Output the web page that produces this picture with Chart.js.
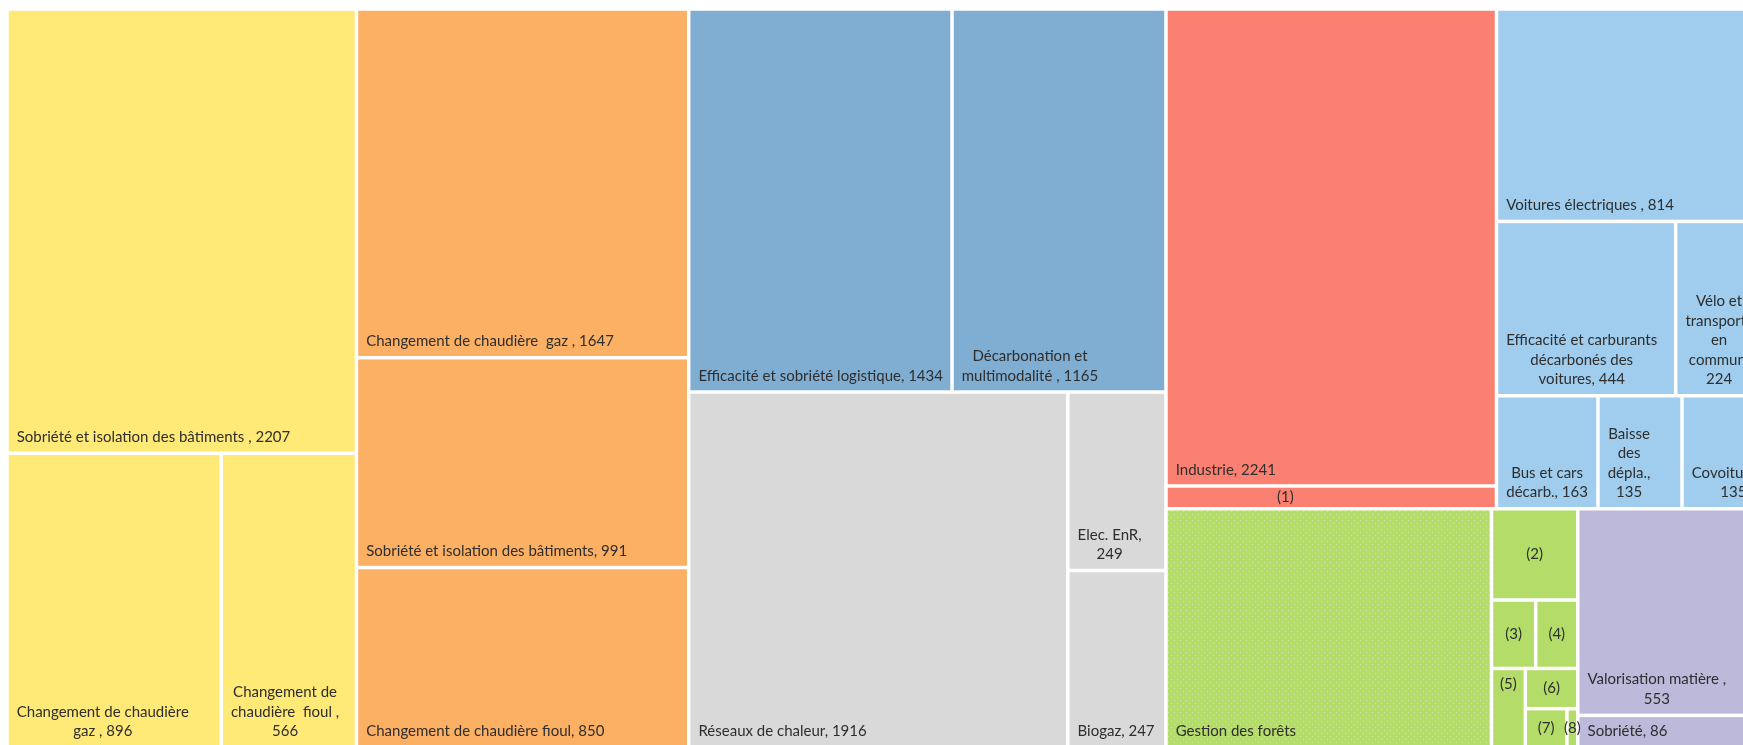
<!DOCTYPE html>
<html lang="fr">
<head>
<meta charset="utf-8">
<title>Treemap</title>
<script src="https://cdn.jsdelivr.net/npm/chart.js@4.4.1/dist/chart.umd.min.js"></script>
<style>
  html, body { margin: 0; padding: 0; background: #fff; }
  #wrap { width: 1743px; height: 745px; }
</style>
</head>
<body>
<div id="wrap"><canvas id="chart" width="1743" height="745"></canvas></div>
<script>
// values (a trailing space in a name gives the " , " separator)
const residentielNames = ["Sobriété et isolation des bâtiments ", "Changement de chaudière gaz ", "Changement de chaudière  fioul "];
const residentielValues = [2207, 896, 566];

const tertiaireNames = ["Changement de chaudière  gaz ", "Sobriété et isolation des bâtiments", "Changement de chaudière fioul"];
const tertiaireValues = [1647, 991, 850];

const logistiqueNames = ["Efficacité et sobriété logistique", "Décarbonation et multimodalité "];
const logistiqueValues = [1434, 1165];

const energieNames = ["Réseaux de chaleur", "Elec. EnR", "Biogaz"];
const energieValues = [1916, 249, 247];

const industrieNames = ["Industrie", "(1)"];
const industrieValues = [2241, 107];

const voituresNames = ["Voitures électriques ", "Efficacité et carburants décarbonés des voitures", "Vélo et transports en commun", "Bus et cars décarb.", "Baisse des dépla.", "Covoiturage"];
const voituresValues = [814, 444, 224, 163, 135, 135];

const foretsNames = ["Gestion des forêts", "(2)", "(3)", "(4)", "(5)", "(6)", "(7)", "(8)"];
const foretsValues = [1105, 112, 43, 41, 38, 30, 23, 6];

const dechetsNames = ["Valorisation matière ", "Sobriété"];
const dechetsValues = [553, 86];

// cells whose label shows no value
const namesWithoutValue = ["(1)", "Gestion des forêts", "(2)", "(3)", "(4)", "(5)", "(6)", "(7)", "(8)"];

// colours
const COLORS = {
  residentiel: "#ffe977",
  tertiaire: "#fbb064",
  logistique: "#80aed2",
  energie: "#d9d9d9",
  industrie: "#fa8072",
  voitures: "#a0cdee",
  forets: "#b4dc68",
  dechets: "#bcb9da"
};

// dotted fill of "Gestion des forêts"
function dotPattern(base) {
  const c = document.createElement("canvas");
  c.width = 6; c.height = 6;
  const g = c.getContext("2d");
  g.fillStyle = base;
  g.fillRect(0, 0, 6, 6);
  g.fillStyle = "rgba(255,255,255,0.38)";
  g.fillRect(1, 1, 1, 1);
  g.fillRect(4, 4, 1, 1);
  return g.createPattern(c, "repeat");
}

// tree helpers: H = side by side, V = stacked
const H = (children) => ({ dir: "h", children });
const V = (children) => ({ dir: "v", children });
function L(names, values, i, color, label) {
  return { name: names[i], value: values[i], color, label: label || {} };
}
const R = (i) => L(residentielNames, residentielValues, i, COLORS.residentiel);
const T = (i) => L(tertiaireNames, tertiaireValues, i, COLORS.tertiaire);
const G = (i, lab) => L(logistiqueNames, logistiqueValues, i, COLORS.logistique, lab);
const E = (i, lab) => L(energieNames, energieValues, i, COLORS.energie, lab);
const I = (i, lab) => L(industrieNames, industrieValues, i, COLORS.industrie, lab);
const C = (i, lab) => L(voituresNames, voituresValues, i, COLORS.voitures, lab);
const F = (i, lab) => L(foretsNames, foretsValues, i, i === 0 ? "pattern" : COLORS.forets, lab);
const D = (i) => L(dechetsNames, dechetsValues, i, COLORS.dechets);

const mid = { mode: "center" };

const tree = H([
  V([R(0), H([R(1), R(2)])]),
  V([T(0), T(1), T(2)]),
  V([H([G(0, { maxW: 256 }), G(1)]), H([E(0), V([E(1), E(2, { maxW: 90 })])])]),
  V([
    H([
      V([I(0), I(1, { mode: "middle", ax: 0.36 })]),
      V([C(0), H([C(1), C(2)]), H([C(3, { maxW: 95 }), C(4), C(5)])])
    ]),
    H([
      F(0),
      V([
        F(1, mid),
        H([F(2, mid), F(3, mid)]),
        H([F(4, { mode: "top" }), V([F(5, mid), H([F(6, mid), F(7, mid)])])])
      ]),
      V([D(0), D(1)])
    ])
  ])
]);

function total(node) {
  return node.children ? node.children.reduce((s, c) => s + total(c), 0) : node.value;
}

// slice and dice in data units: x runs over the total, y over 0..1
function layout(node, x0, x1, y0, y1, out) {
  if (!node.children) {
    out.push(Object.assign({ x0, x1, y0, y1 }, node));
    return out;
  }
  const sum = total(node);
  let pos = node.dir === "h" ? x0 : y0;
  node.children.forEach((c) => {
    const span = (node.dir === "h" ? x1 - x0 : y1 - y0) * total(c) / sum;
    if (node.dir === "h") layout(c, pos, pos + span, y0, y1, out);
    else layout(c, x0, x1, pos, pos + span, out);
    pos += span;
  });
  return out;
}

const TOTAL = total(tree);
const cells = layout(tree, 0, TOTAL, 0, 1, []);

// the reference is a crop: only part of the treemap is visible
const VIEW_X = 0.9869;
const VIEW_Y = 0.9966;
const GAP = 3.5;
const FONT = "15px Lato";
const TEXT_COLOR = "#2e2e2e";
const LINE_H = 19.5;
const PAD = 8;

function labelText(cell) {
  return namesWithoutValue.includes(cell.name) ? cell.name : cell.name + ", " + cell.value;
}

function wrap(ctx, text, maxW) {
  const words = text.split(" ");
  const lines = [];
  let cur = "";
  words.forEach((w) => {
    const test = cur === "" ? w : cur + " " + w;
    if (cur !== "" && w !== "" && ctx.measureText(test).width > maxW) {
      lines.push(cur.trim());
      cur = w;
    } else {
      cur = test;
    }
  });
  if (cur.trim() !== "") lines.push(cur.trim());
  return lines;
}

const treemapPlugin = {
  id: "treemapCells",
  beforeDatasetsDraw(chart) {
    const ctx = chart.ctx;
    const xs = chart.scales.x, ys = chart.scales.y;
    const pattern = dotPattern(COLORS.forets);
    ctx.save();
    cells.forEach((c) => {
      const left = xs.getPixelForValue(c.x0) + GAP / 2;
      const right = xs.getPixelForValue(c.x1) - GAP / 2;
      const top = ys.getPixelForValue(c.y0) + GAP / 2;
      const bottom = ys.getPixelForValue(c.y1) - GAP / 2;
      ctx.fillStyle = c.color === "pattern" ? pattern : c.color;
      ctx.fillRect(left, top, right - left, bottom - top);
      c.px = { left, right, top, bottom };
    });
    ctx.restore();
  },
  afterDatasetsDraw(chart) {
    const ctx = chart.ctx;
    ctx.save();
    ctx.font = FONT;
    ctx.fillStyle = TEXT_COLOR;
    ctx.textAlign = "center";
    ctx.textBaseline = "middle";
    cells.forEach((c) => {
      const p = c.px;
      const w = p.right - p.left;
      const mode = c.label.mode || "bottom";
      const lines = wrap(ctx, labelText(c), c.label.maxW || (w - 2 * PAD - 2));
      const blockW = Math.max.apply(null, lines.map((l) => ctx.measureText(l).width));
      let cx, firstY;
      if (mode === "center") {
        cx = (p.left + p.right) / 2;
        firstY = (p.top + p.bottom) / 2 - (lines.length - 1) * LINE_H / 2;
      } else if (mode === "middle") {
        cx = p.left + w * c.label.ax;
        firstY = (p.top + p.bottom) / 2 - (lines.length - 1) * LINE_H / 2;
      } else if (mode === "top") {
        cx = (p.left + p.right) / 2;
        firstY = p.top + 14;
      } else {
        cx = p.left + PAD + blockW / 2;
        firstY = p.bottom - 14.5 - (lines.length - 1) * LINE_H;
      }
      lines.forEach((l, k) => ctx.fillText(l, cx, firstY + k * LINE_H));
    });
    ctx.restore();
  }
};

const chart = new Chart(document.getElementById("chart"), {
  type: "scatter",
  data: { datasets: [{ data: [] }] },
  options: {
    responsive: false,
    animation: false,
    layout: { padding: { left: 7, top: 9, right: 0, bottom: 0 } },
    plugins: { legend: { display: false }, tooltip: { enabled: false } },
    scales: {
      x: { type: "linear", display: false, min: 0, max: TOTAL * VIEW_X },
      y: { type: "linear", display: false, reverse: true, min: 0, max: VIEW_Y }
    }
  },
  plugins: [treemapPlugin]
});
</script>
</body>
</html>
